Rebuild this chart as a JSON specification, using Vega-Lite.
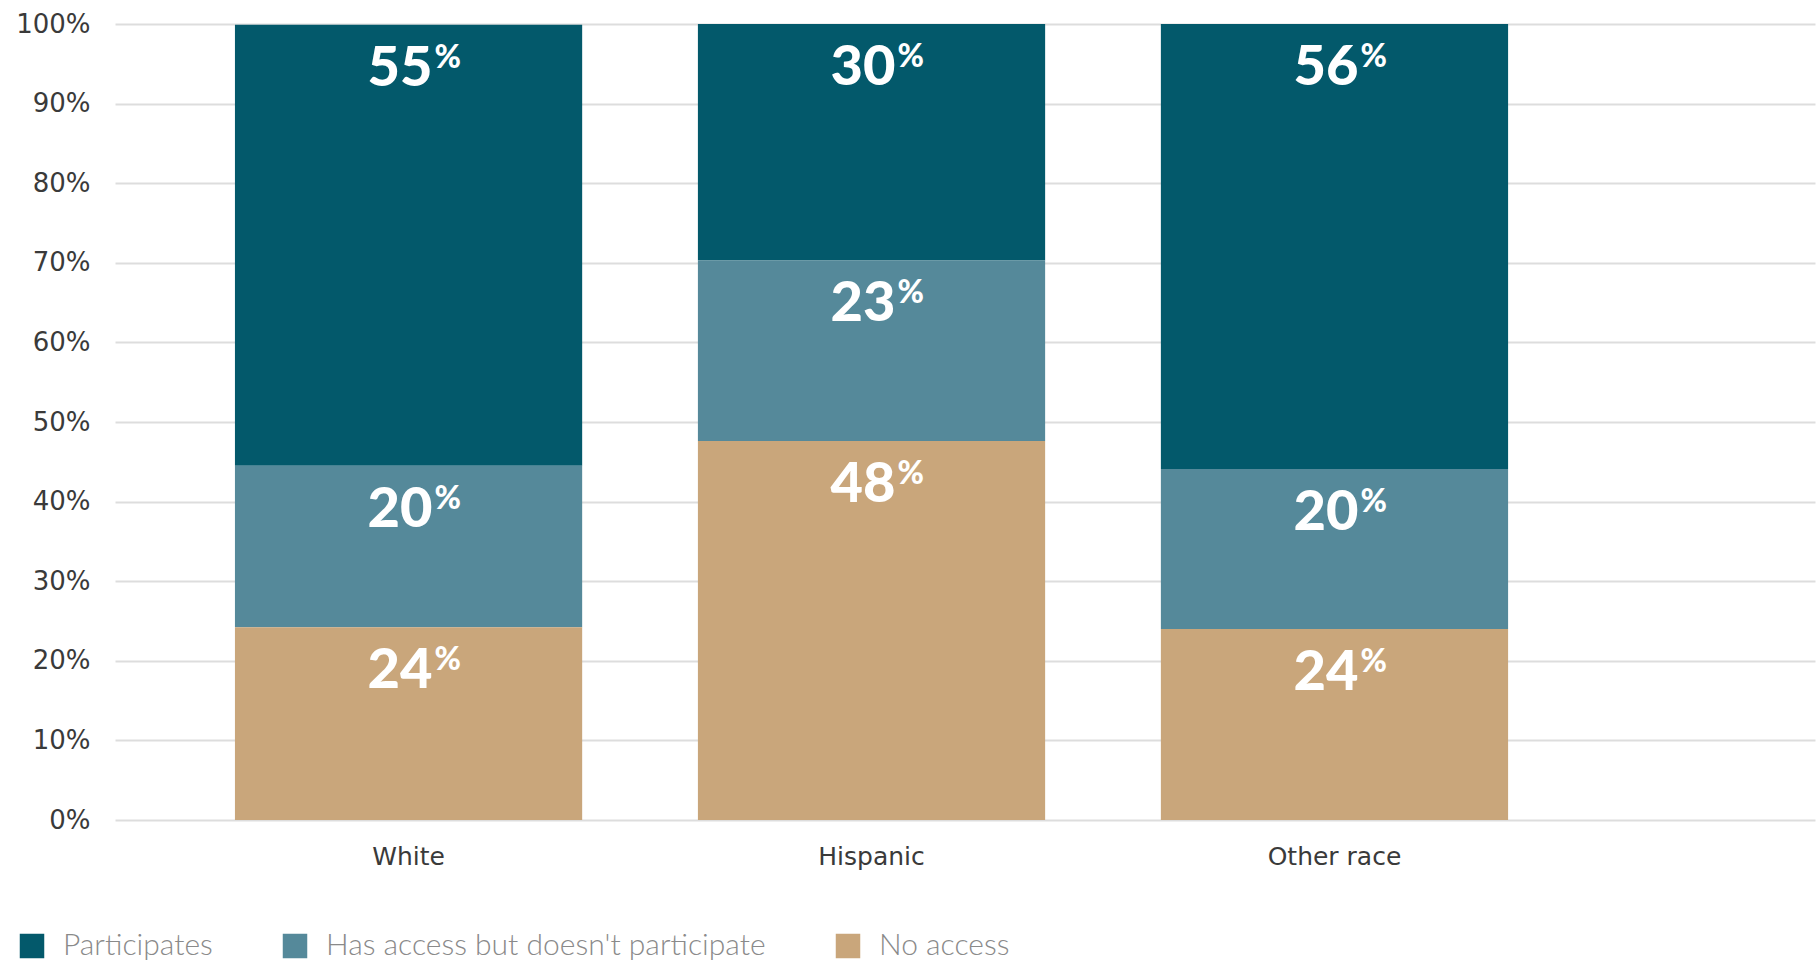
{
  "$schema": "https://vega.github.io/schema/vega-lite/v6.json",
  "width": 1700,
  "height": 796,
  "autosize": {"type": "none"},
  "padding": {"left": 115, "top": 24, "right": 4, "bottom": 141},
  "background": "white",
  "config": {"view": {"stroke": null}},
  "data": {
    "values": [
      {"group": "White", "status": "Participates", "value": 55.4},
      {"group": "White", "status": "Has access but doesn't participate", "value": 20.3},
      {"group": "White", "status": "No access", "value": 24.2},
      {"group": "Hispanic", "status": "Participates", "value": 29.7},
      {"group": "Hispanic", "status": "Has access but doesn't participate", "value": 22.7},
      {"group": "Hispanic", "status": "No access", "value": 47.6},
      {"group": "Other race", "status": "Participates", "value": 55.9},
      {"group": "Other race", "status": "Has access but doesn't participate", "value": 20.1},
      {"group": "Other race", "status": "No access", "value": 24.0}
    ]
  },
  "transform": [
    {"calculate": "datum.status === 'Participates' ? 3 : (datum.status === 'No access' ? 1 : 2)", "as": "ord"}
  ],
  "encoding": {
    "x": {
      "field": "group",
      "type": "nominal",
      "sort": ["White", "Hispanic", "Other race"],
      "scale": {"type": "band", "paddingInner": 0.25, "paddingOuter": 0.461, "align": 0.281},
      "axis": {
        "title": null,
        "domain": false,
        "ticks": false,
        "grid": false,
        "labelAngle": 0,
        "labelFont": "DejaVu Sans",
        "labelFontSize": 25,
        "labelColor": "#3a3a3a",
        "labelPadding": 24
      }
    },
    "y": {
      "field": "value",
      "type": "quantitative",
      "stack": "zero",
      "scale": {"domain": [0, 100], "nice": false},
      "axis": {
        "title": null,
        "values": [0, 10, 20, 30, 40, 50, 60, 70, 80, 90, 100],
        "labelExpr": "datum.value + '%'",
        "domain": false,
        "ticks": false,
        "grid": true,
        "gridColor": "#dddddd",
        "gridWidth": 2,
        "labelFont": "DejaVu Sans",
        "labelFontSize": 26,
        "labelColor": "#3a3a3a",
        "labelPadding": 25
      }
    },
    "order": {"field": "ord", "type": "quantitative"}
  },
  "layer": [
    {
      "mark": {"type": "bar"},
      "encoding": {
        "color": {
          "field": "status",
          "type": "nominal",
          "scale": {
            "domain": ["Participates", "Has access but doesn't participate", "No access"],
            "range": ["#03596B", "#55899A", "#C9A67B"]
          },
          "legend": {
            "title": null,
            "orient": "none",
            "direction": "horizontal",
            "legendX": -98,
            "legendY": 907,
            "symbolType": "square",
            "symbolSize": 600,
            "symbolStrokeWidth": 0,
            "symbolOpacity": 1,
            "labelFont": "Lato",
            "labelFontSize": 30,
            "labelFontWeight": 300,
            "labelColor": "#8a8a8a",
            "labelLimit": 800,
            "labelOffset": 16,
            "columnPadding": 67
          }
        }
      }
    },
    {
      "mark": {"type": "text", "align": "right", "baseline": "top", "dx": 24, "dy": 17, "font": "Lato", "fontSize": 56, "fontWeight": 900, "color": "white"},
      "encoding": {
        "detail": {"field": "status"},
        "text": {"field": "value", "type": "quantitative", "format": ".0f"}
      }
    },
    {
      "mark": {"type": "text", "align": "left", "baseline": "top", "dx": 26, "dy": 18, "font": "Lato", "fontSize": 32, "fontWeight": 900, "color": "white"},
      "encoding": {
        "detail": {"field": "status"},
        "text": {"value": "%"}
      }
    }
  ]
}
